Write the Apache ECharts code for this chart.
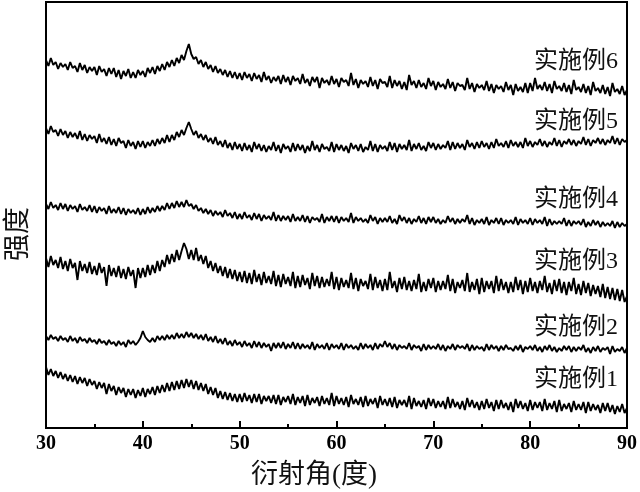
<!DOCTYPE html>
<html>
<head>
<meta charset="utf-8">
<script src="https://cdn.jsdelivr.net/npm/echarts@6/dist/echarts.min.js"></script>
<style>html,body{margin:0;padding:0;background:#fff}#c{width:640px;height:492px}</style>
</head>
<body>
<div id="c"></div>
<script>
// 2θ sampling grid: 30° to 90° every 0.25° (241 points)
const angleStart = 30;
const angleStep = 0.25;
const xTickLabels = ['30','40','50','60','70','80','90'];
const seriesNames = ['实施例1','实施例2','实施例3','实施例4','实施例5','实施例6'];
const xAxisTitle = '衍射角(度)';
const yAxisTitle = '强度';

// stacked intensities (a.u.)
const s1 = [
61,53,59,52, 57,50,56,49, 54,47,53,46, 52,44,51,45, 50,42,49,43,
47,39,46,40, 45,34,44,37, 42,33,41,35, 40,31,39,33, 39,30,38,32,
40,31,39,34, 41,33,42,35, 43,36,45,37, 46,38,47,39, 48,40,49,41,
48,39,47,38, 45,37,44,34, 41,33,40,30, 37,29,36,28, 35,27,34,26,
34,26,35,27, 33,25,34,26, 34,24,32,27, 32,25,33,24, 33,23,31,26,
32,24,34,23, 31,25,32,22, 33,23,30,25, 31,22,32,24, 30,23,35,22,
32,24,30,23, 31,21,33,24, 29,23,31,21, 32,22,29,24, 30,20,32,23,
29,22,30,21, 31,20,28,23, 28,21,32,19, 30,22,27,21, 28,19,30,22,
29,20,27,21, 27,19,31,20, 29,21,26,19, 27,18,30,21, 28,20,26,18,
27,19,29,20, 26,17,28,19, 28,20,25,18, 26,16,29,20, 27,19,25,17,
28,18,26,20, 26,17,29,18, 25,19,27,16, 28,17,24,19, 25,16,27,18,
24,18,26,15, 26,17,24,18, 23,15,25,17, 25,16,23,14, 22,16,24,15,
20];
const s2 = [
92,88,93,89, 91,87,92,88, 90,86,92,87, 90,85,91,87, 89,85,90,86,
88,84,89,85, 87,83,88,84, 86,82,87,83, 86,81,88,84, 87,83,86,90,
97,91,88,86, 90,86,92,88, 92,88,93,89, 93,89,95,90, 94,90,96,91,
95,90,94,89, 93,88,94,87, 91,86,92,85, 89,84,90,83, 87,82,88,83,
86,81,87,82, 85,80,87,81, 86,80,85,81, 84,77,85,80, 85,80,86,79,
84,80,86,79, 85,79,84,80, 83,79,86,78, 84,80,83,79, 85,78,84,80,
83,79,85,78, 84,80,83,79, 82,78,85,79, 84,80,83,78, 85,79,84,81,
87,81,85,79, 84,78,83,80, 82,79,85,78, 83,80,82,77, 84,78,83,79,
82,79,84,78, 83,77,82,79, 84,78,83,80, 82,79,84,77, 83,78,82,79,
81,77,84,78, 83,79,82,77, 82,78,83,79, 80,77,82,78, 83,76,81,79,
82,78,83,77, 81,76,82,78, 83,77,81,76, 80,77,82,78, 82,76,81,77,
81,78,83,76, 80,75,81,77, 82,76,80,78, 81,74,82,76, 79,77,81,75,
80];
const s3 = [
170,161,172,163, 168,160,171,159, 167,157,169,160, 165,148,167,157, 164,155,166,154,
162,153,165,155, 161,142,163,152, 160,151,162,150, 159,149,161,152, 158,140,160,150,
160,151,163,153, 163,155,167,157, 168,161,173,164, 174,166,178,168, 177,185,179,169,
178,168,180,167, 173,164,172,160, 167,157,165,155, 162,152,161,150, 159,149,158,147,
156,146,157,145, 155,144,158,146, 154,143,156,145, 152,144,157,142, 153,141,154,144,
151,142,156,140, 152,141,153,143, 150,139,155,142, 152,140,151,141, 149,142,156,139,
151,138,150,141, 148,140,155,139, 150,137,149,142, 147,139,154,138, 151,140,148,137,
149,138,156,140, 147,136,150,139, 151,138,147,137, 148,139,154,136, 146,137,149,140,
150,136,147,138, 147,139,153,137, 149,135,146,140, 148,137,155,136, 146,138,149,134,
150,136,147,139, 147,135,152,137, 149,138,146,135, 146,136,151,138, 148,134,147,136,
150,137,146,135, 147,138,152,136, 145,134,148,137, 149,135,146,133, 146,137,150,134,
144,133,147,135, 145,132,143,134, 142,131,144,130, 141,129,140,128, 139,127,138,126,
132];
const s4 = [
224,219,226,220, 223,218,225,219, 224,217,223,219, 222,216,224,218, 221,217,223,216,
222,215,221,217, 220,214,222,215, 219,215,221,214, 220,213,219,215, 218,214,220,213,
219,214,221,215, 220,216,222,217, 222,218,225,219, 225,220,227,221, 226,221,228,222,
224,219,223,217, 220,215,219,214, 218,212,217,213, 216,211,218,212, 215,210,216,209,
214,209,216,210, 213,208,215,209, 214,207,213,209, 212,208,216,207, 213,207,212,208,
212,206,214,207, 211,207,213,206, 212,205,211,208, 210,206,214,205, 211,207,212,206,
212,205,211,207, 210,206,215,205, 211,207,210,206, 209,205,213,207, 211,204,210,206,
210,206,212,205, 209,204,213,207, 211,205,210,204, 209,206,212,205, 210,204,211,206,
211,205,209,204, 208,205,212,206, 210,204,209,205, 209,206,213,204, 210,203,208,205,
209,204,211,203, 208,205,210,204, 210,203,208,205, 208,204,211,203, 209,205,208,204,
210,203,209,205, 208,204,211,202, 209,203,207,204, 207,204,210,202, 208,202,207,204,
207,203,209,201, 206,202,208,203, 207,201,206,202, 205,202,207,200, 206,201,205,202,
204];
const s5 = [
300,294,302,296, 298,292,299,293, 297,290,296,291, 295,289,297,288, 294,287,293,289,
292,285,294,286, 290,284,291,283, 289,282,290,285, 287,280,288,282, 286,279,287,281,
287,280,286,282, 288,282,289,284, 290,285,293,286, 293,288,296,291, 298,293,300,306,
299,293,297,290, 294,288,293,286, 290,284,291,283, 287,281,288,280, 285,278,286,279,
284,277,285,278, 283,276,286,279, 284,277,283,276, 282,278,286,277, 283,275,284,279,
282,276,285,277, 284,278,283,275, 282,277,287,278, 283,276,284,279, 281,277,286,276,
284,278,283,277, 282,275,285,279, 283,277,284,276, 281,278,287,277, 284,276,283,279,
282,277,286,278, 285,276,284,279, 283,278,288,277, 284,279,285,278, 282,277,286,280,
285,278,284,279, 283,280,287,278, 286,279,285,280, 284,278,288,281, 285,279,286,280,
287,281,285,279, 286,280,289,282, 285,281,287,280, 288,282,286,281, 286,280,290,282,
287,281,286,283, 289,282,287,281, 286,283,290,282, 288,281,287,284, 289,283,288,282,
287,284,291,283, 289,282,288,285, 290,284,289,283, 288,285,292,284, 290,283,289,286,
288];
const s6 = [
368,362,370,363, 366,359,365,361, 364,358,366,360, 362,356,365,358, 363,355,361,357,
361,353,362,356, 359,352,360,354, 360,351,358,349, 357,352,359,350, 356,350,358,353,
357,351,360,355, 361,354,362,357, 364,358,366,361, 368,362,370,365, 373,368,377,384,
374,369,371,364, 368,361,366,359, 363,356,362,355, 359,353,358,351, 357,350,356,349,
355,348,356,350, 354,347,355,349, 353,346,356,348, 352,345,351,347, 352,344,353,346,
351,343,352,347, 350,344,354,345, 349,342,351,346, 351,340,350,345, 348,343,352,344,
349,341,350,346, 348,342,355,343, 349,340,348,344, 347,341,351,342, 348,339,349,345,
346,341,352,340, 348,342,347,339, 346,338,353,343, 347,340,348,341, 345,339,350,342,
347,338,346,341, 344,339,349,340, 346,337,345,342, 343,338,350,339, 345,336,344,340,
343,338,347,337, 344,335,343,339, 342,336,346,338, 343,333,344,337, 341,336,345,335,
345,337,350,339, 343,338,346,337, 344,335,347,339, 342,337,345,336, 343,334,348,338,
341,336,344,335, 342,333,346,337, 340,335,343,334, 341,332,345,336, 339,334,342,333,
338];
const traces = [s1, s2, s3, s4, s5, s6];

const chart = echarts.init(document.getElementById('c'), null, {renderer: 'canvas'});
const serifCJK = '"Liberation Serif","Noto Sans CJK SC",serif';

const series = traces.map((vals, k) => ({
  name: seriesNames[k],
  type: 'line',
  showSymbol: false,
  symbol: 'none',
  sampling: null,
  animation: false,
  lineStyle: {color: '#000', width: 1.9},
  data: vals.map((v, i) => [angleStart + i * angleStep, v])
}));

// label anchor positions (pixels) for 实施例1..6
const labelY = [380, 328, 262, 200, 122, 62];
const graphics = seriesNames.map((n, k) => ({
  type: 'text', x: 618, y: labelY[k], silent: true,
  style: {text: n, align: 'right', verticalAlign: 'middle', textAlign: 'right', textVerticalAlign: 'middle',
          fontSize: 24, fontFamily: serifCJK, fill: '#111'}
}));
graphics.push({
  type: 'text', x: 314, y: 476, silent: true,
  style: {text: xAxisTitle, align: 'center', verticalAlign: 'middle', textAlign: 'center', textVerticalAlign: 'middle',
          fontSize: 27, fontFamily: serifCJK, fill: '#111'}
});
graphics.push({
  type: 'text', x: 19, y: 234, rotation: Math.PI / 2, silent: true,
  style: {text: yAxisTitle, align: 'center', verticalAlign: 'middle', textAlign: 'center', textVerticalAlign: 'middle',
          fontSize: 27, fontFamily: serifCJK, fill: '#111'}
});

chart.setOption({
  animation: false,
  backgroundColor: '#fff',
  grid: {left: 46, right: 13, top: 2, bottom: 64, show: true, borderColor: '#000', borderWidth: 2, backgroundColor: 'transparent'},
  xAxis: {
    type: 'value', min: 30, max: 90, interval: 10,
    axisLine: {show: true, lineStyle: {color: '#000', width: 2}},
    axisTick: {show: true, inside: true, length: 7, lineStyle: {color: '#000', width: 2}},
    minorTick: {show: true, splitNumber: 2, length: 4, lineStyle: {color: '#000', width: 2}},
    splitLine: {show: false}, minorSplitLine: {show: false},
    axisLabel: {color: '#000', fontFamily: '"Liberation Serif",serif', fontWeight: 'bold', fontSize: 20, margin: 6,
      formatter: v => xTickLabels[Math.round((v - 30) / 10)] || String(v)}
  },
  yAxis: {
    type: 'value', min: 0, max: 426,
    axisLine: {show: true, lineStyle: {color: '#000', width: 2}},
    axisTick: {show: false}, axisLabel: {show: false}, splitLine: {show: false}
  },
  graphic: graphics,
  series: series
});
</script>
</body>
</html>
